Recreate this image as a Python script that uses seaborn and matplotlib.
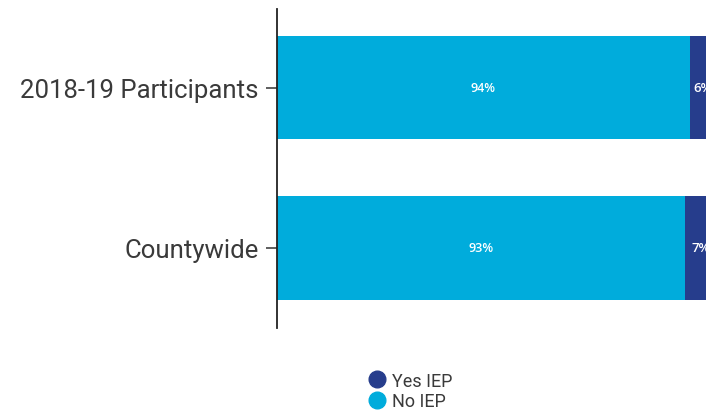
import matplotlib
matplotlib.use("Agg")
import matplotlib.pyplot as plt
from matplotlib.lines import Line2D
import seaborn as sns
import pandas as pd

groups = ["2018-19 Participants", "Countywide"]
no_iep = [94, 93]
yes_iep = [6, 7]
series_names = ["Yes IEP", "No IEP"]
colors = {"Yes IEP": "#263d8c", "No IEP": "#00acdc"}

sns.set_theme(style="white")
plt.rcParams["font.family"] = ["Roboto", "DejaVu Sans"]

df = pd.DataFrame({"group": groups, "no": no_iep, "yes": yes_iep})
df["total"] = df["no"] + df["yes"]

fig = plt.figure(figsize=(7.06, 4.14), dpi=100)
ax = fig.add_axes([0.392, 0.205, 0.622, 0.771])

# stacked horizontal bars: full length in dark blue, No IEP share on top
sns.barplot(data=df, y="group", x="total", color=colors["Yes IEP"], orient="h",
            width=0.644, saturation=1, linewidth=0, ax=ax)
sns.barplot(data=df, y="group", x="no", color=colors["No IEP"], orient="h",
            width=0.644, saturation=1, linewidth=0, ax=ax)

for i, (n, y) in enumerate(zip(no_iep, yes_iep)):
    ax.text(n / 2, i, f"{n}%", color="white", ha="center", va="center",
            fontsize=9, fontweight="semibold", family=["Open Sans", "DejaVu Sans"])
    ax.text(n + y / 2, i, f"{y}%", color="white", ha="center", va="center",
            fontsize=9.5, fontweight="semibold", family=["Open Sans", "DejaVu Sans"])

ax.set_xlim(0, 100)
ax.set_ylim(1.5, -0.49)
ax.set_xlabel("")
ax.set_ylabel("")
ax.set_xticks([])
for s in ["top", "right", "bottom"]:
    ax.spines[s].set_visible(False)
ax.spines["left"].set_color("#222222")
ax.spines["left"].set_linewidth(1.3)
ax.tick_params(axis="y", left=True, length=8, width=1.1, color="#333333",
               labelsize=18.5, labelcolor="#3a3a3a", pad=5)

handles = [Line2D([0], [0], marker="o", linestyle="", markersize=12,
                  markerfacecolor=colors[n], markeredgecolor=colors[n])
           for n in series_names]
fig.legend(handles, series_names, loc="center", bbox_to_anchor=(0.58, 0.053),
           frameon=False, fontsize=13, handletextpad=0.25, labelspacing=0.15,
           handlelength=1.2, labelcolor="#3a3a3a")

fig.savefig("out.png", dpi=100)
